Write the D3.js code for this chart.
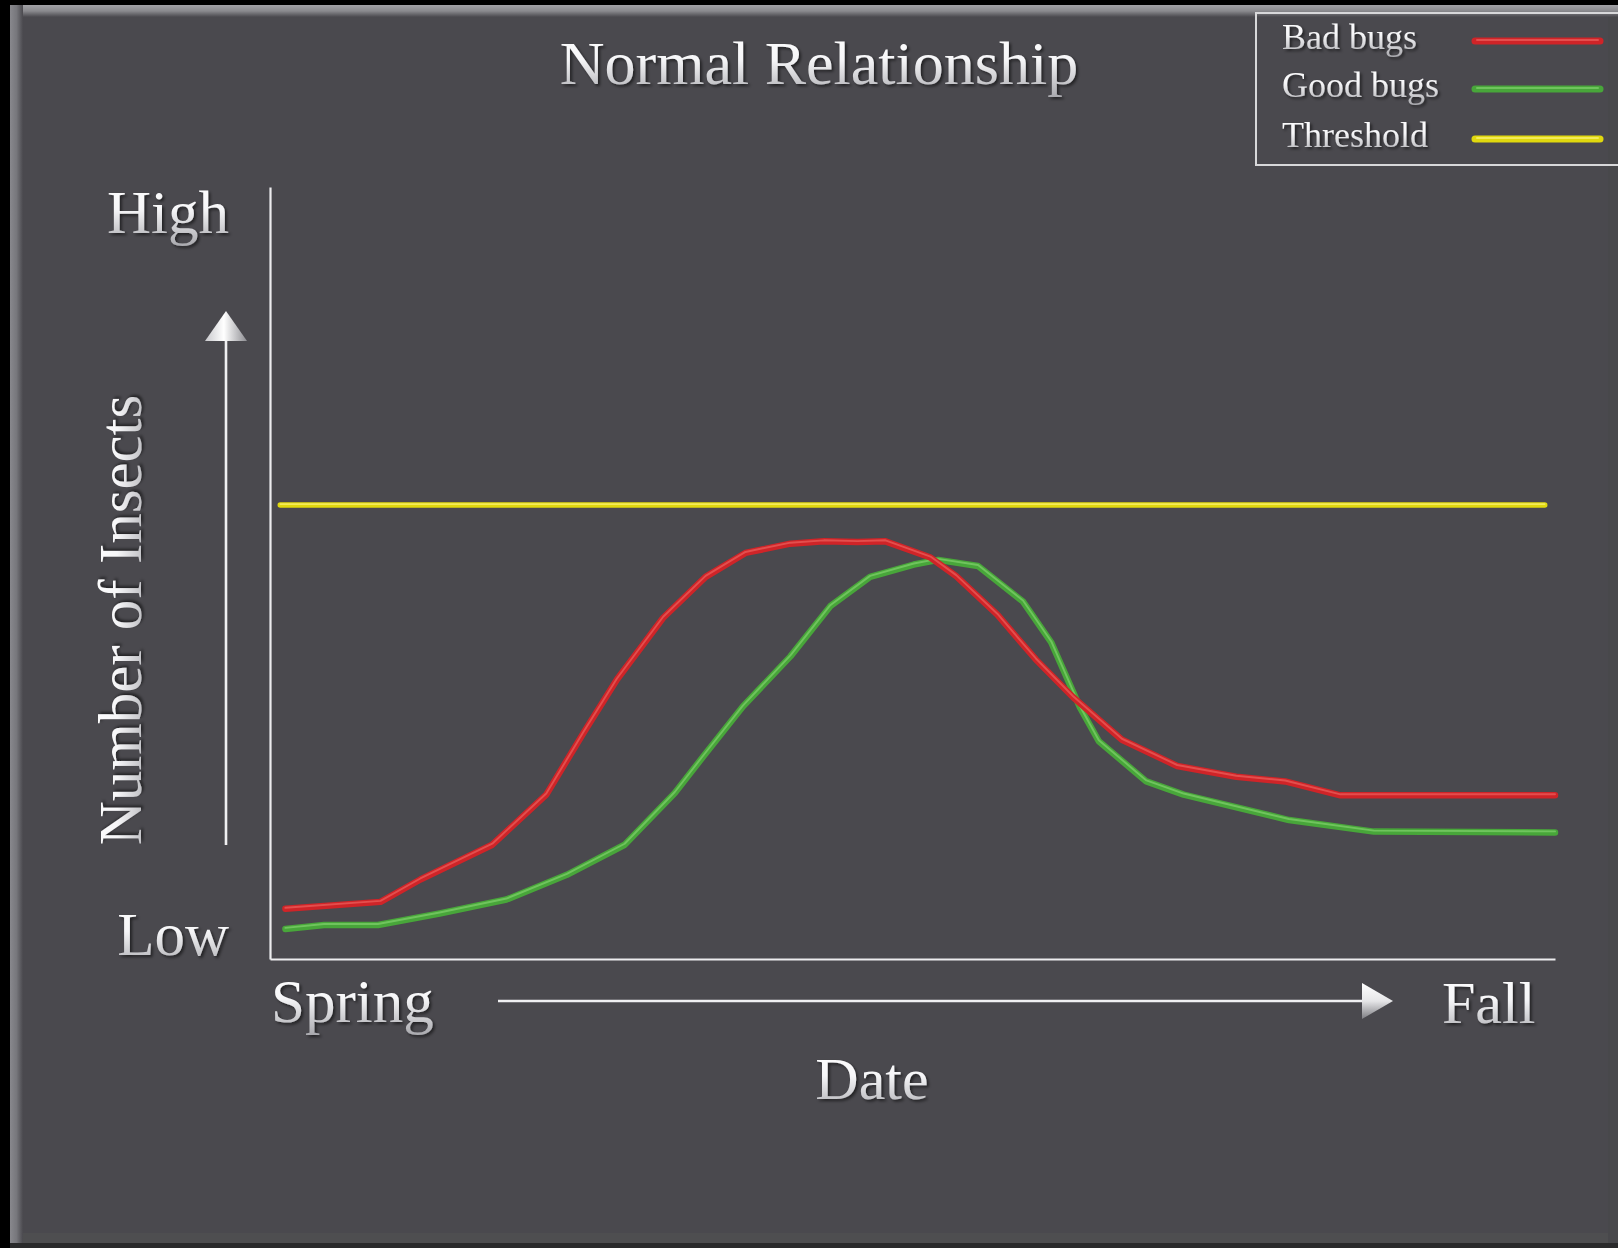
<!DOCTYPE html>
<html>
<head>
<meta charset="utf-8">
<title>Normal Relationship</title>
<script src="https://cdn.jsdelivr.net/npm/d3@7/dist/d3.min.js"></script>
<style>
  html, body { margin: 0; padding: 0; background: #000; }
  svg { display: block; }
  text { font-family: "Liberation Serif", "Times New Roman", Times, serif; }
</style>
</head>
<body>
<svg id="chart" width="1618" height="1248"></svg>
<script>
// Season progress (0 = spring, 100 = fall) vs. relative insect numbers (0 = low, 100 = high)
const badBugs = [
  [1.2, 6.5], [8.6, 7.4], [11.7, 10.3], [17.3, 14.8], [21.5, 21.3], [24.4, 29.3],
  [27.0, 36.2], [30.6, 44.2], [33.9, 49.5], [37.0, 52.6], [40.5, 53.8], [43.1, 54.1],
  [45.7, 54.0], [47.9, 54.1], [51.4, 52.0], [53.4, 49.6], [56.6, 44.6], [59.6, 38.8],
  [62.5, 33.9], [66.3, 28.4], [70.6, 25.0], [75.2, 23.6], [79.0, 23.0], [83.3, 21.2],
  [100, 21.2]
];
const goodBugs = [
  [1.2, 3.9], [4.2, 4.4], [8.4, 4.4], [13.2, 5.9], [18.4, 7.7], [23.1, 10.9],
  [27.6, 14.8], [31.5, 21.5], [33.7, 26.2], [36.8, 32.7], [40.5, 39.2], [43.6, 45.7],
  [46.7, 49.5], [50.1, 51.1], [52.0, 51.7], [55.1, 50.9], [58.6, 46.3], [60.8, 41.0],
  [63.0, 32.7], [64.5, 28.2], [68.2, 23.0], [71.1, 21.3], [79.3, 18.0], [85.9, 16.5],
  [100, 16.4]
];
const thresholdLevel = 58.8;
const thresholdSpan = [0.8, 99.2];

const seriesNames = ["Bad bugs", "Good bugs", "Threshold"];
const seriesColors = ["#cf2428", "#48a63a", "#e0d80e"];
const seriesHighlights = ["#f06a66", "#8ad874", "#fff88e"];

const svg = d3.select("#chart");
const defs = svg.append("defs");

// ---- gradients & filters ----
function linGrad(id, x2, y2, stops) {
  const g = defs.append("linearGradient").attr("id", id)
    .attr("x1", 0).attr("y1", 0).attr("x2", x2).attr("y2", y2);
  stops.forEach(([o, c]) => g.append("stop").attr("offset", o).attr("stop-color", c));
}
linGrad("textGrad", 0, 1, [[0, "#ffffff"], [0.45, "#f6f6f8"], [1, "#a9a9ae"]]);
linGrad("bevelLeft", 1, 0, [[0, "#88888d"], [0.5, "#77777c"], [1, "#4a494e"]]);
linGrad("bevelTop", 0, 1, [[0, "#a2a2a6"], [0.5, "#8a8a8e"], [1, "#4a494e"]]);
linGrad("arrowUp", 1, 0, [[0, "#c8c8cc"], [0.45, "#ffffff"], [1, "#8d8d92"]]);
linGrad("arrowRight", 0, 1, [[0, "#ffffff"], [0.5, "#e6e6e8"], [1, "#7d7d82"]]);

const shadow = defs.append("filter").attr("id", "shadow")
  .attr("x", "-10%").attr("y", "-20%").attr("width", "120%").attr("height", "140%");
shadow.append("feDropShadow").attr("dx", 2).attr("dy", 2).attr("stdDeviation", 1.5)
  .attr("flood-color", "#000").attr("flood-opacity", 0.55);

// ---- panel with bevelled edges ----
svg.append("rect").attr("x", 0).attr("y", 0).attr("width", 1618).attr("height", 1248).attr("fill", "#000");
svg.append("rect").attr("x", 10).attr("y", 1243).attr("width", 1608).attr("height", 5).attr("fill", "#2a2a2b");
svg.append("rect").attr("x", 10).attr("y", 5).attr("width", 1608).attr("height", 1238).attr("fill", "#4a494e");
svg.append("rect").attr("x", 10).attr("y", 1233).attr("width", 1608).attr("height", 10).attr("fill", "#4e4e50");
svg.append("rect").attr("x", 1608).attr("y", 5).attr("width", 10).attr("height", 1238).attr("fill", "#48484b");
svg.append("rect").attr("x", 10).attr("y", 5).attr("width", 1608).attr("height", 12).attr("fill", "url(#bevelTop)");
svg.append("rect").attr("x", 10).attr("y", 5).attr("width", 13).attr("height", 1238).attr("fill", "url(#bevelLeft)");

// ---- scales ----
const x = d3.scaleLinear().domain([0, 100]).range([270, 1555]);
const y = d3.scaleLinear().domain([0, 100]).range([959, 187]);

// ---- axes (plain lines, no ticks) ----
const axisStyle = g => {
  g.select(".domain").attr("stroke", "#ececee").attr("stroke-width", 2.2);
  g.selectAll(".tick").remove();
};
svg.append("g").attr("transform", `translate(${x(0)},0)`)
  .call(d3.axisLeft(y).tickValues([]).tickSizeOuter(0)).call(axisStyle);
svg.append("g").attr("transform", `translate(0,${y(0)})`)
  .call(d3.axisBottom(x).tickValues([]).tickSizeOuter(0)).call(axisStyle);

// ---- direction arrows ----
const arrows = svg.append("g");
// vertical: more insects upward
arrows.append("line").attr("x1", 226).attr("x2", 226).attr("y1", 340).attr("y2", 845)
  .attr("stroke", "#f0f0f2").attr("stroke-width", 2.6);
arrows.append("path").attr("d", "M226,311 L247,341 L205,341 Z").attr("fill", "url(#arrowUp)");
// horizontal: time from spring to fall
arrows.append("line").attr("x1", 498).attr("x2", 1364).attr("y1", 1001).attr("y2", 1001)
  .attr("stroke", "#f0f0f2").attr("stroke-width", 2.6);
arrows.append("path").attr("d", "M1393,1001 L1362,983 L1362,1019 Z").attr("fill", "url(#arrowRight)");

// ---- series lines (tube look: coloured body plus a soft highlight) ----
const line = d3.line().x(d => x(d[0])).y(d => y(d[1])).curve(d3.curveLinear);
const thresholdData = thresholdSpan.map(v => [v, thresholdLevel]);

function tube(g, data, i, w) {
  g.append("path").datum(data).attr("d", line)
    .attr("fill", "none").attr("stroke", seriesColors[i]).attr("stroke-width", w)
    .attr("stroke-linejoin", "round").attr("stroke-linecap", "round");
  g.append("path").datum(data).attr("d", line).attr("transform", "translate(0,-1)")
    .attr("fill", "none").attr("stroke", seriesHighlights[i]).attr("stroke-width", w * 0.3)
    .attr("stroke-opacity", 0.6)
    .attr("stroke-linejoin", "round").attr("stroke-linecap", "round");
}
const plot = svg.append("g");
tube(plot, thresholdData, 2, 5.5);
tube(plot, goodBugs, 1, 6.5);
tube(plot, badBugs, 0, 6.5);

// ---- text ----
const txt = (xx, yy, s, size, anchor) => svg.append("text")
  .attr("x", xx).attr("y", yy).attr("font-size", size).attr("text-anchor", anchor || "start")
  .attr("fill", "url(#textGrad)").attr("filter", "url(#shadow)").text(s);

txt(819, 84, "Normal Relationship", 62, "middle");
txt(229, 233, "High", 61, "end");
txt(229, 955, "Low", 61, "end");
txt(271, 1022, "Spring", 61, "start");
txt(1442, 1023, "Fall", 60, "start");
txt(872, 1099, "Date", 60, "middle");
svg.append("text").attr("transform", "translate(141,620) rotate(-90)")
  .attr("font-size", 61).attr("text-anchor", "middle")
  .attr("fill", "url(#textGrad)").attr("filter", "url(#shadow)").text("Number of Insects");

// ---- legend ----
const legend = svg.append("g");
legend.append("rect").attr("x", 1256).attr("y", 13).attr("width", 400).attr("height", 152)
  .attr("fill", "none").attr("stroke", "#d8d8da").attr("stroke-width", 2);
const legendRowY = [41, 89, 139];
seriesNames.forEach((name, i) => {
  legend.append("text").attr("x", 1282).attr("y", legendRowY[i] + 8)
    .attr("font-size", 36).attr("fill", "url(#textGrad)").attr("filter", "url(#shadow)").text(name);
  legend.append("line").attr("x1", 1475).attr("x2", 1600)
    .attr("y1", legendRowY[i]).attr("y2", legendRowY[i])
    .attr("stroke", seriesColors[i]).attr("stroke-width", 7).attr("stroke-linecap", "round");
  legend.append("line").attr("x1", 1477).attr("x2", 1598)
    .attr("y1", legendRowY[i] - 1).attr("y2", legendRowY[i] - 1)
    .attr("stroke", seriesHighlights[i]).attr("stroke-width", 2).attr("stroke-opacity", 0.6)
    .attr("stroke-linecap", "round");
});
</script>
</body>
</html>
